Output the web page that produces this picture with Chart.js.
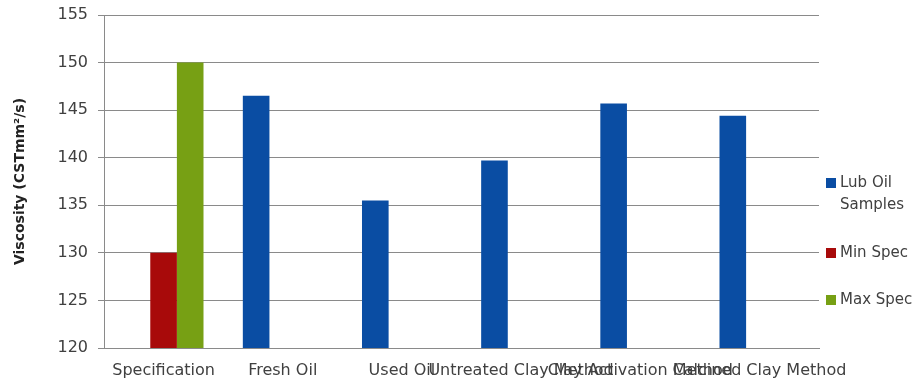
<!DOCTYPE html>
<html>
<head>
<meta charset="utf-8">
<script src="https://cdn.jsdelivr.net/npm/chart.js@4.4.1/dist/chart.umd.min.js"></script>
<style>
  html, body { margin: 0; padding: 0; background: #fff; }
  #wrap { width: 924px; height: 381px; position: relative; }
</style>
</head>
<body>
<div id="wrap"><canvas id="c" width="924" height="381"></canvas></div>
<script>
const categories = ["Specification", "Fresh Oil", "Used Oil", "Untreated Clay Method", "Clay Activation Method", "Calcined Clay Method"];
const lubOilSamples = [null, 146.5, 135.5, 139.7, 145.7, 144.4];
const minSpec = [130, null, null, null, null, null];
const maxSpec = [150, null, null, null, null, null];
const seriesNames = ["Lub Oil Samples", "Min Spec", "Max Spec"];
const yTicks = [120, 125, 130, 135, 140, 145, 150, 155];

const colors = ["#0A4DA3", "#A80A0A", "#77A014"];
const FONT = "DejaVu Sans";

const legendPlugin = {
  id: 'customLegend',
  afterDraw(chart) {
    const ctx = chart.ctx;
    ctx.save();
    ctx.font = "15px '" + FONT + "'";
    ctx.textBaseline = "middle";
    const items = [
      { lines: ["Lub Oil", "Samples"], y: 183 },
      { lines: ["Min Spec"], y: 253 },
      { lines: ["Max Spec"], y: 300 }
    ];
    items.forEach((it, i) => {
      ctx.fillStyle = chart.data.datasets[i].backgroundColor;
      ctx.fillRect(826, it.y - 5, 10, 10);
      ctx.fillStyle = "#404040";
      it.lines.forEach((ln, j) => ctx.fillText(ln, 840, it.y + j * 22));
    });
    ctx.restore();
  }
};

new Chart(document.getElementById('c'), {
  type: 'bar',
  data: {
    labels: categories,
    datasets: [
      { label: seriesNames[0], data: lubOilSamples, backgroundColor: colors[0] },
      { label: seriesNames[1], data: minSpec, backgroundColor: colors[1] },
      { label: seriesNames[2], data: maxSpec, backgroundColor: colors[2] }
    ]
  },
  options: {
    responsive: false,
    animation: false,
    devicePixelRatio: 1,
    layout: { padding: { top: 15, right: 105, left: 0, bottom: 0 } },
    datasets: { bar: { categoryPercentage: 0.67, barPercentage: 1.0 } },
    plugins: { legend: { display: false }, tooltip: { enabled: false } },
    scales: {
      x: {
        afterFit(scale) { scale.height = 33; },
        grid: { display: false, drawTicks: false },
        border: { color: '#8a8a8a', width: 1 },
        ticks: {
          autoSkip: false, maxRotation: 0, minRotation: 0,
          color: '#404040', padding: 13,
          font: { family: FONT, size: 16 }
        }
      },
      y: {
        min: 120, max: 155,
        afterBuildTicks(scale) { scale.ticks = yTicks.map(v => ({ value: v })); },
        afterFit(scale) { scale.width = 104; scale.paddingTop = 0; scale.paddingBottom = 0; },
        grid: { color: '#8a8a8a', lineWidth: 1, tickLength: 6 },
        border: { color: '#8a8a8a', width: 1 },
        ticks: {
          color: '#404040', padding: 10,
          font: { family: FONT, size: 16 }
        },
        title: {
          display: true,
          text: 'Viscosity (CSTmm²/s)',
          color: '#222',
          font: { family: FONT, size: 14, weight: 'bold' },
          padding: { top: 12, bottom: 0 }
        }
      }
    }
  },
  plugins: [legendPlugin]
});
</script>
</body>
</html>
